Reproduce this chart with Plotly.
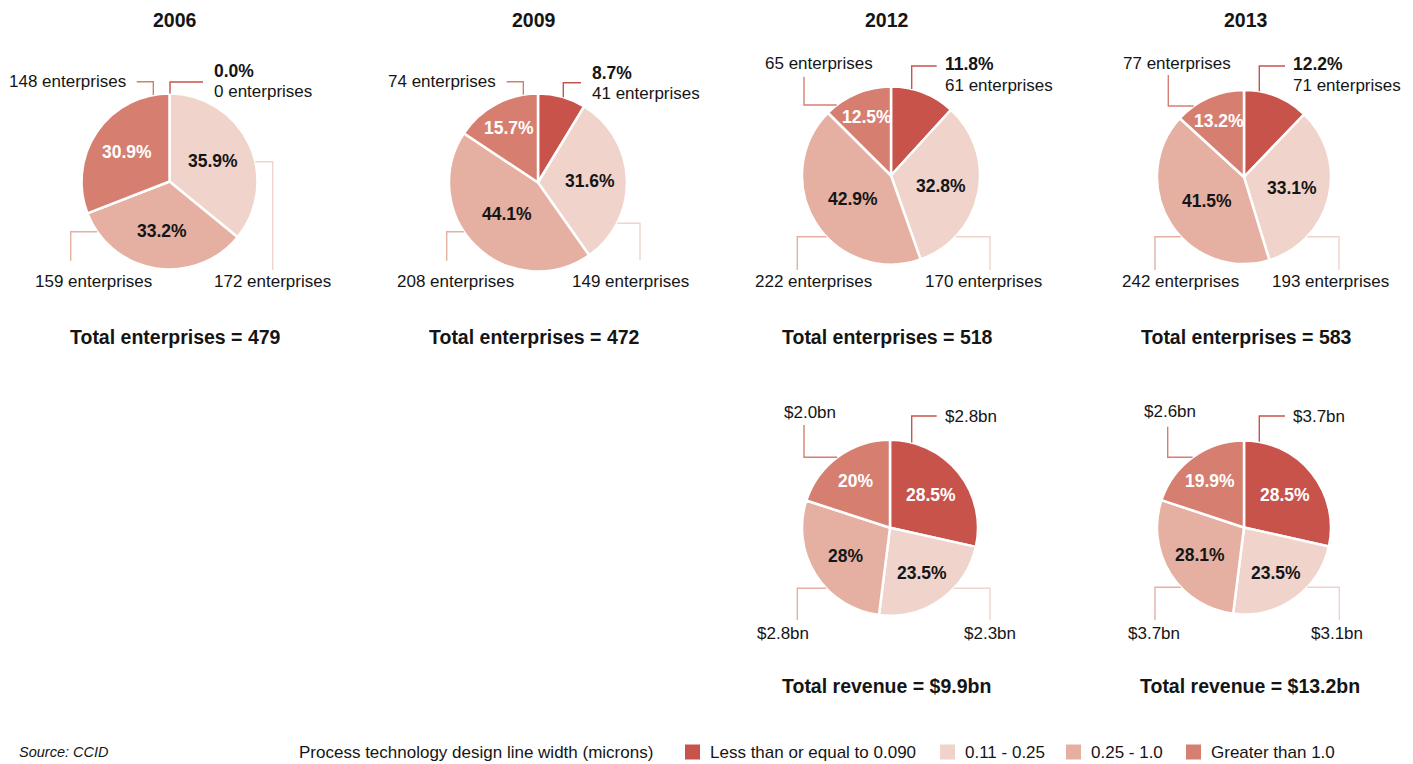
import math
import plotly.graph_objects as go

# ---------------------------------------------------------------- data
categories = ["Less than or equal to 0.090", "0.11 - 0.25", "0.25 - 1.0", "Greater than 1.0"]

years = ["2006", "2009", "2012", "2013"]
enterprises_2006 = [0, 172, 159, 148]
enterprises_2009 = [41, 149, 208, 74]
enterprises_2012 = [61, 170, 222, 65]
enterprises_2013 = [71, 193, 242, 77]

revenue_years = ["2012", "2013"]
revenue_share_2012 = [28.5, 23.5, 28, 20]          # % of revenue
revenue_share_2013 = [28.5, 23.5, 28.1, 19.9]
revenue_bn_2012 = [2.8, 2.3, 2.8, 2.0]             # US$ bn
revenue_bn_2013 = [3.7, 3.1, 3.7, 2.6]
revenue_total_bn = [9.9, 13.2]

source_note = "Source: CCID"
legend_title = "Process technology design line width (microns)"

# ---------------------------------------------------------------- style
W, H = 1413, 764
FONT = "Liberation Sans, Arial, sans-serif"
INK = "#151515"
COLORS = ["#C8534A", "#F0D3CB", "#E5B0A2", "#D67F71"]
INSIDE_INK = ["#ffffff", INK, INK, "#ffffff"]
LABEL_SIZE = 17
HEAD_SIZE = 19.5

# pie centre / radius in pixels
PIE_GEOM = [
    (169.5, 181.5, 88), (538, 182.5, 89), (891, 175.5, 89), (1244, 177, 87),
    (890, 527.7, 88), (1244, 527.5, 87),
]
COL_X = [175, 534, 887, 1246]
REV_COL_X = [886, 1250]

# leader lines, one per slice, relative to the pie centre (px):
#   ("v", x, y_elbow, x_end): vertical from the rim, then horizontal
#   ("h", y, x_elbow, y_end): horizontal from the rim, then vertical
# followed by the label anchor (dx, dy, xanchor)
LEADERS = [
    [(("v", 0.5, -99.5, 33.5), (42.5, -110.8, -90.5, "left")),
     (("h", -19.8, 103.2, 88.5), (103, 100.5, "center")),
     (("h", 50.2, -98.8, 79.2), (-76.5, 100.5, "center")),
     (("v", -16.2, -99.8, -32.8), (-41.5, -99.5, "right"))],
    [(("v", 25.3, -99.8, 43), (52, -109.5, -89.5, "left")),
     (("h", 40.8, 102, 77.5), (92, 99.5, "center")),
     (("h", 49.2, -91.3, 78.2), (-82.2, 99.5, "center")),
     (("v", -14.7, -100.8, -31.3), (-39.7, -100.5, "right"))],
    [(("v", 20.7, -109.5, 45.7), (52, -111.5, -90.5, "left")),
     (("h", 61.2, 99, 94.5), (93, 106.5, "center")),
     (("h", 61.2, -93.7, 94.5), (-77, 106.5, "center")),
     (("h", -70.5, -87, -98.8), (-72, -111.5, "center"))],
    [(("v", 15.3, -111, 41), (46.7, -113, -92, "left")),
     (("h", 59.7, 95, 93), (86, 105, "center")),
     (("h", 59.7, -89, 93), (-64, 105, "center")),
     (("h", -71, -75.7, -102), (-67.3, -113, "center"))],
    [(("v", 21.7, -111.7, 46.7), (52.7, -111.7, "left")),
     (("h", 60.6, 100, 92.3), (100, 105.3, "center")),
     (("h", 60.6, -92.7, 92.3), (-107, 105.3, "center")),
     (("h", -70.4, -86, -102.7), (-80, -115.7, "center"))],
    [(("v", 15.3, -111.5, 41), (46.7, -111.5, "left")),
     (("h", 59.8, 95.3, 92.5), (93, 105.5, "center")),
     (("h", 59.8, -89, 92.5), (-90, 105.5, "center")),
     (("h", -70.2, -76.3, -100.8), (-74.5, -115.5, "center"))],
]


def px(x):
    return x / W


def py(y):
    return 1 - y / H


fig = go.Figure()
annotations = []
shapes = []


def text(x, y, s, size=LABEL_SIZE, bold=False, color=INK, xanchor="center", italic=False):
    annotations.append(dict(
        x=px(x), y=py(y), xref="paper", yref="paper", text=s, showarrow=False,
        xanchor=xanchor, yanchor="middle",
        font=dict(family=FONT, size=size, color=color,
                  weight="bold" if bold else "normal",
                  style="italic" if italic else "normal"),
    ))


def add_pie(values, geom):
    cx, cy, r = geom
    fig.add_trace(go.Pie(
        values=values, labels=categories, sort=False, direction="clockwise",
        rotation=0, textinfo="none", hoverinfo="label+value",
        marker=dict(colors=COLORS, line=dict(color="white", width=2.5)),
        domain=dict(x=[px(cx - r), px(cx + r)], y=[py(cy + r), py(cy - r)]),
        showlegend=False,
    ))


def slice_mids(values):
    total = sum(values)
    out, start = [], 0.0
    for v in values:
        sweep = 360.0 * v / total
        out.append((start + sweep / 2, v / total))
        start += sweep
    return out


def inside_labels(values, labels, geom, skip_first):
    cx, cy, r = geom
    for i, ((mid, share), lab) in enumerate(zip(slice_mids(values), labels)):
        if skip_first and i == 0:
            continue
        f = max(0.5, 0.8 - 0.7 * share)
        a = math.radians(mid)
        text(cx + f * r * math.sin(a), cy - f * r * math.cos(a), lab,
             size=17.5, bold=True, color=INSIDE_INK[i])


def leader(geom, spec, color):
    cx, cy, r = geom
    kind, a, b, c = spec
    if kind == "v":
        x = cx + a
        rim = cy - math.sqrt(r * r - a * a) if b < 0 else cy + math.sqrt(r * r - a * a)
        pts = [(x, rim), (x, cy + b), (cx + c, cy + b)]
    else:
        y = cy + a
        rim = cx - math.sqrt(r * r - a * a) if b < 0 else cx + math.sqrt(r * r - a * a)
        pts = [(rim, y), (cx + b, y), (cx + b, cy + c)]
    path = "M " + " L ".join(f"{px(x):.5f},{py(y):.5f}" for x, y in pts)
    shapes.append(dict(type="path", path=path, xref="paper", yref="paper",
                       line=dict(color=color, width=1.4)))


# ---------------------------------------------------------------- enterprises
enterprise_series = [enterprises_2006, enterprises_2009, enterprises_2012, enterprises_2013]
for k, counts in enumerate(enterprise_series):
    geom = PIE_GEOM[k]
    cx, cy, r = geom
    total = sum(counts)
    pcts = [f"{100 * v / total:.1f}%" for v in counts]
    add_pie(counts, geom)
    inside_labels(counts, pcts, geom, skip_first=True)
    for i, (spec, lab) in enumerate(LEADERS[k]):
        leader(geom, spec, COLORS[i])
        if i == 0:
            dx, dy1, dy2, anc = lab
            text(cx + dx, cy + dy1, pcts[i], size=17.5, bold=True, xanchor=anc)
            text(cx + dx, cy + dy2, f"{counts[i]} enterprises", xanchor=anc)
        else:
            dx, dy, anc = lab
            text(cx + dx, cy + dy, f"{counts[i]} enterprises", xanchor=anc)
    text(COL_X[k], 20, years[k], size=HEAD_SIZE, bold=True)
    text(COL_X[k], 337, f"Total enterprises = {total}", size=HEAD_SIZE, bold=True)

# ---------------------------------------------------------------- revenue
revenue_series = [(revenue_share_2012, revenue_bn_2012), (revenue_share_2013, revenue_bn_2013)]
for k, (shares, bn) in enumerate(revenue_series):
    geom = PIE_GEOM[4 + k]
    cx, cy, r = geom
    add_pie(shares, geom)
    inside_labels(shares, [f"{v:g}%" for v in shares], geom, skip_first=False)
    for i, (spec, lab) in enumerate(LEADERS[4 + k]):
        leader(geom, spec, COLORS[i])
        dx, dy, anc = lab
        text(cx + dx, cy + dy, f"${bn[i]:.1f}bn", xanchor=anc)
    text(REV_COL_X[k], 686, f"Total revenue = ${revenue_total_bn[k]:.1f}bn",
         size=HEAD_SIZE, bold=True)

# ---------------------------------------------------------------- footer / key
text(17, 752, source_note, size=14.5, xanchor="left", italic=True)
text(297, 752, legend_title, xanchor="left")
key_x = [685, 940, 1066, 1186]
for i, name in enumerate(categories):
    shapes.append(dict(type="rect", xref="paper", yref="paper",
                       x0=px(key_x[i]), x1=px(key_x[i] + 15), y0=py(759.5), y1=py(744.5),
                       fillcolor=COLORS[i], line=dict(width=0)))
    text(key_x[i] + 23, 752, name, xanchor="left")

fig.update_layout(
    width=W, height=H, margin=dict(l=0, r=0, t=0, b=0),
    paper_bgcolor="white", plot_bgcolor="white",
    annotations=annotations, shapes=shapes,
    font=dict(family=FONT, color=INK),
)

fig.write_html("out.html")
